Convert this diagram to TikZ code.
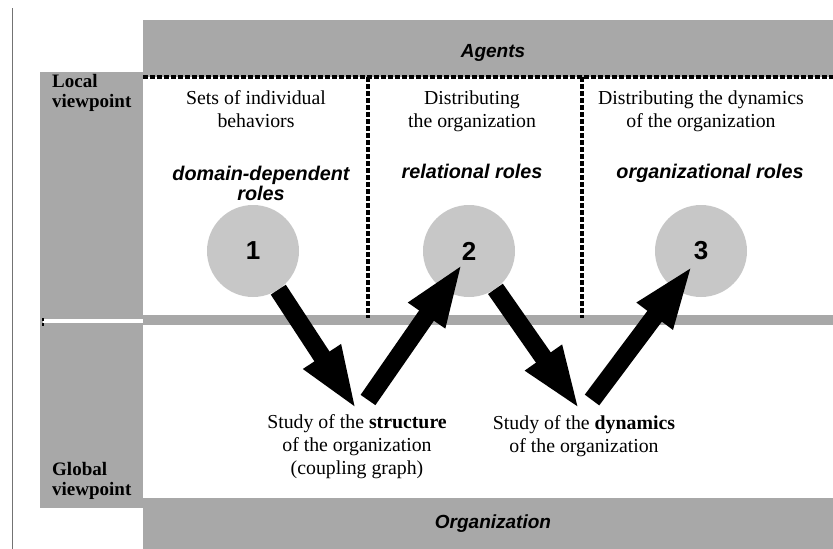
\documentclass[tikz,border=0pt]{standalone}
\usepackage{fontspec}
\setmainfont{Liberation Serif}
\setsansfont{Liberation Sans}
\usetikzlibrary{arrows.meta}
\begin{document}
\begin{tikzpicture}[x=1pt,y=-1pt,
  band/.style={fill=black!34, draw=none},
  orb/.style={circle, fill=black!22, minimum size=92pt, inner sep=0pt,
    font=\sffamily\bfseries\fontsize{26}{26}\selectfont},
  divider/.style={line width=3.2pt, dash pattern=on 5pt off 2pt},
  body/.style={font=\fontsize{19.8}{23}\selectfont, align=center, anchor=base, inner sep=0pt},
  role/.style={font=\sffamily\bfseries\itshape\fontsize{19.8}{20}\selectfont, align=center, anchor=base, inner sep=0pt},
  side/.style={font=\bfseries\fontsize{19}{20}\selectfont, align=left, anchor=base west, inner sep=0pt},
  title/.style={font=\sffamily\bfseries\itshape\fontsize{19}{19}\selectfont, anchor=base, inner sep=0pt},
  flow/.style={line width=18pt, -{Triangle[length=64pt,width=40pt]}},
]
\useasboundingbox (0,0) rectangle (833,549);
\fill[white] (0,0) rectangle (833,549);

% page rule on the left
\draw[black!55, line width=1pt] (12,8) -- (12,549);

% shaded bands
\fill[band] (143,20) rectangle (833,77);
\fill[band] (40,72) rectangle (143,508);
\fill[band] (143,315) rectangle (833,325);
\fill[band] (143,498) rectangle (833,549);
\fill[white] (43,319) rectangle (143,323);
\draw[line width=2.4pt, dash pattern=on 3pt off 2pt] (43,318) -- (43,327);

% dashed separators
\draw[divider] (143,77) -- (833,77);
\draw[divider] (368,77) -- (368,318);
\draw[divider] (582,77) -- (582,318);

% band titles
\node[title] (agents) at (493,57) {Agents};
\node[title] (org) at (493,528) {Organization};

% viewpoint labels (anchored on the baseline of the last line)
\node[side] (local) at (52,107) {Local\\viewpoint};
\node[side] (global) at (52,495) {Global\\viewpoint};

% column headings
\node[body] (h1) at (256,127) {Sets of individual\\behaviors};
\node[body] (h2) at (472,127) {Distributing\\the organization};
\node[body] (h3) at (701,127) {Distributing the dynamics\\of the organization};

\node[role] (r1) at (261,200) {domain-dependent\\roles};
\node[role] (r2) at (472,178) {relational roles};
\node[role] (r3) at (710,178) {organizational roles};

% role circles
\node[orb] (c1) at (253,251) {\raisebox{-4pt}{1}};
\node[orb] (c2) at (469,251) {\raisebox{-4pt}{2}};
\node[orb] (c3) at (701,251) {\raisebox{-4pt}{3}};

% global studies
\node[body] (s1) at (357,474) {Study of the \textbf{structure}\\of the organization\\(coupling graph)};
\node[body] (s2) at (584,452) {Study of the \textbf{dynamics}\\of the organization};

% arrow ends
\coordinate (s1in) at (357,410);
\coordinate (s1out) at (368,400);
\coordinate (c2in) at (463,263);
\coordinate (s2in) at (580,410);
\coordinate (s2out) at (592,400);
\coordinate (c3in) at (693,265);

% flow between local and global viewpoints
\draw[flow] (c1) -- (s1in);
\draw[flow] (s1out) -- (c2in);
\draw[flow] (c2) -- (s2in);
\draw[flow] (s2out) -- (c3in);
\end{tikzpicture}
\end{document}
